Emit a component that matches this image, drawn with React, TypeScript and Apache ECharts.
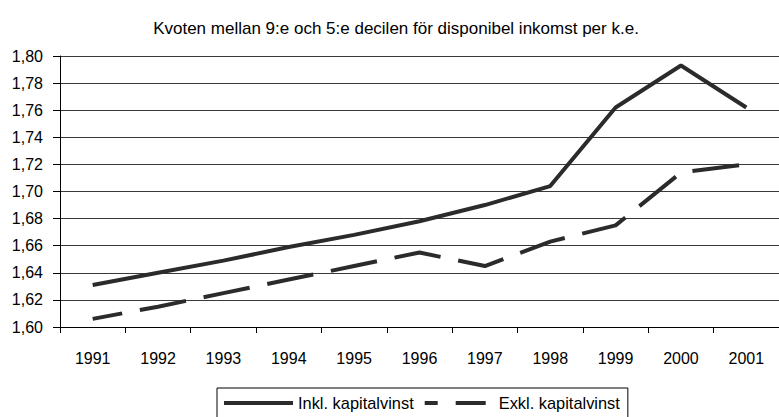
import React, { useEffect, useRef } from "react";
import * as echarts from "echarts";

const years = ["1991", "1992", "1993", "1994", "1995", "1996", "1997", "1998", "1999", "2000", "2001"];
const inklValues = [1.631, 1.64, 1.649, 1.659, 1.668, 1.678, 1.69, 1.704, 1.762, 1.793, 1.762];
const exklValues = [1.606, 1.615, 1.625, 1.635, 1.645, 1.655, 1.645, 1.663, 1.675, 1.714, 1.72];
const titleText = "Kvoten mellan 9:e och 5:e decilen för disponibel inkomst per k.e.";
const inklName = "Inkl. kapitalvinst";
const exklName = "Exkl. kapitalvinst";

const FONT = "'Liberation Sans', Arial, sans-serif";

export default function App() {
  const ref = useRef<HTMLDivElement>(null);
  useEffect(() => {
    if (!ref.current) return;
    const chart = echarts.init(ref.current, undefined, { renderer: "svg" });
    chart.setOption({
      animation: false,
      backgroundColor: "#ffffff",
      title: {
        text: titleText,
        left: 391,
        textAlign: "center",
        top: 15,
        textStyle: { fontFamily: FONT, fontSize: 17, fontWeight: "normal", color: "#000" },
      },
      legend: {
        left: 217,
        top: 388,
        orient: "horizontal",
        borderColor: "#000",
        borderWidth: 1,
        padding: [7, 8, 12, 5],
        itemWidth: 69,
        itemHeight: 14,
        itemGap: 9,
        textStyle: { fontFamily: FONT, fontSize: 16.4, color: "#000" },
        data: [
          { name: inklName, itemStyle: { opacity: 0 }, lineStyle: { color: "#2b2b2b", width: 4, type: "solid" } },
          { name: exklName, itemStyle: { opacity: 0 }, lineStyle: { color: "#2b2b2b", width: 4, type: [30, 18] } },
        ],
      },
      grid: { left: 60, top: 56, width: 721.6, height: 271, containLabel: false },
      xAxis: {
        type: "category",
        data: years,
        boundaryGap: true,
        axisLine: { lineStyle: { color: "#000", width: 1 } },
        axisTick: { show: true, length: 6, lineStyle: { color: "#000" } },
        axisLabel: { fontFamily: FONT, fontSize: 16, color: "#000", margin: 23 },
        splitLine: { show: false },
      },
      yAxis: {
        type: "value",
        min: 1.6,
        max: 1.8,
        interval: 0.02,
        axisLine: { show: true, lineStyle: { color: "#000", width: 1 } },
        axisTick: { show: true, length: 7, lineStyle: { color: "#000" } },
        axisLabel: {
          fontFamily: FONT,
          fontSize: 16,
          color: "#000",
          margin: 17,
          formatter: (v: number) => v.toFixed(2).replace(".", ","),
        },
        splitLine: { show: true, lineStyle: { color: "#3a3a3a", width: 1 } },
      },
      series: [
        {
          name: inklName,
          type: "line",
          data: inklValues,
          showSymbol: false,
          symbol: "none",
          lineStyle: { color: "#2b2b2b", width: 4 },
          itemStyle: { color: "#2b2b2b" },
        },
        {
          name: exklName,
          type: "line",
          data: exklValues,
          showSymbol: false,
          symbol: "none",
          lineStyle: { color: "#2b2b2b", width: 4, type: [47, 18], dashOffset: 17 },
          itemStyle: { color: "#2b2b2b" },
        },
      ],
    });
    return () => chart.dispose();
  }, []);
  return <div ref={ref} style={{ width: 779, height: 417, position: "absolute", left: 0, top: 0 }} />;
}
